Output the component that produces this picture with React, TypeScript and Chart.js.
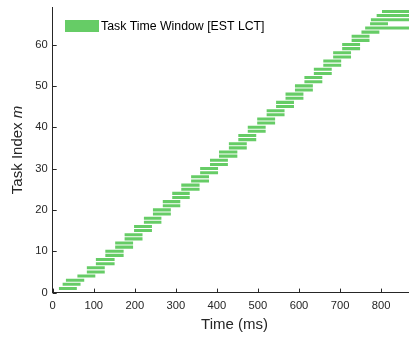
import React, { useEffect, useRef } from 'react';
import { Chart, registerables } from 'chart.js';

Chart.register(...registerables);

// ---------- data ----------
const taskIndex = [
  1, 2, 3, 4, 5, 6, 7, 8, 9, 10, 11, 12, 13, 14, 15, 16, 17, 18, 19, 20,
  21, 22, 23, 24, 25, 26, 27, 28, 29, 30, 31, 32, 33, 34, 35, 36, 37, 38, 39, 40,
  41, 42, 43, 44, 45, 46, 47, 48, 49, 50, 51, 52, 53, 54, 55, 56, 57, 58, 59, 60,
  61, 62, 63, 64, 65, 66, 67, 68,
];
const est = [
  16, 25, 33, 61, 84, 84, 106, 106, 129, 129, 153, 153, 176, 176, 199, 199, 223, 223, 245, 245,
  269, 269, 292, 292, 314, 314, 338, 338, 360, 360, 384, 384, 406, 406, 430, 430, 453, 453, 476, 476,
  499, 499, 522, 522, 545, 545, 568, 568, 591, 591, 614, 614, 637, 637, 660, 660, 684, 684, 706, 706,
  729, 729, 753, 762, 774, 776, 790, 803,
];
const lct = [
  58, 67, 76, 103, 126, 126, 150, 150, 172, 172, 195, 195, 218, 218, 241, 241, 264, 264, 287, 287,
  310, 310, 333, 333, 357, 357, 380, 380, 402, 402, 426, 426, 449, 449, 472, 472, 495, 495, 518, 518,
  541, 541, 564, 564, 587, 587, 610, 610, 633, 633, 656, 656, 679, 679, 702, 702, 726, 726, 748, 748,
  771, 771, 795, 890, 816, 890, 890, 890,
];
const xTicks = [0, 100, 200, 300, 400, 500, 600, 700, 800];
const yTicks = [0, 10, 20, 30, 40, 50, 60];
const seriesLabel = 'Task Time Window [EST LCT]';
const xTitle = 'Time (ms)';
const yTitleMain = 'Task Index ';
const yTitleVar = 'm';

// ---------- style ----------
const W = 409;
const H = 339;
const FONT = '"Liberation Sans", Arial, Helvetica, sans-serif';
const AXIS = '#262626';
const GREEN = '#66cc66';

const decorPlugin = {
  id: 'decor',
  afterDraw(chart: any) {
    const { ctx, chartArea, scales } = chart;
    const xs = scales.x;
    const ys = scales.y;
    ctx.save();
    // inward tick marks
    ctx.strokeStyle = AXIS;
    ctx.lineWidth = 1;
    ctx.beginPath();
    xTicks.forEach((v) => {
      const px = Math.round(xs.getPixelForValue(v)) + 0.5;
      ctx.moveTo(px, chartArea.bottom);
      ctx.lineTo(px, chartArea.bottom - 4);
    });
    yTicks.forEach((v) => {
      const py = Math.round(ys.getPixelForValue(v)) + 0.5;
      ctx.moveTo(chartArea.left, py);
      ctx.lineTo(chartArea.left + 4, py);
    });
    ctx.stroke();

    // x title
    ctx.fillStyle = AXIS;
    ctx.font = `15px ${FONT}`;
    ctx.textAlign = 'center';
    ctx.textBaseline = 'middle';
    ctx.fillText(xTitle, 234.5, 324.5);

    // y title with italic variable
    const cy = (chartArea.top + chartArea.bottom) / 2;
    ctx.translate(18, cy);
    ctx.rotate(-Math.PI / 2);
    ctx.font = `15px ${FONT}`;
    const w1 = ctx.measureText(yTitleMain).width;
    ctx.font = `italic 15px ${FONT}`;
    const w2 = ctx.measureText(yTitleVar).width;
    const start = -(w1 + w2) / 2;
    ctx.textAlign = 'left';
    ctx.font = `15px ${FONT}`;
    ctx.fillText(yTitleMain, start, 0);
    ctx.font = `italic 15px ${FONT}`;
    ctx.fillText(yTitleVar, start + w1, 0);
    ctx.setTransform(1, 0, 0, 1, 0, 0);

    // legend
    const ds = chart.data.datasets[0];
    ctx.fillStyle = ds.backgroundColor;
    ctx.fillRect(65, 20, 34, 12);
    ctx.fillStyle = '#000000';
    ctx.font = `12.3px ${FONT}`;
    ctx.textAlign = 'left';
    ctx.textBaseline = 'middle';
    ctx.fillText(ds.label, 101, 26.5);
    ctx.restore();
  },
};

export default function App() {
  const ref = useRef<HTMLCanvasElement | null>(null);

  useEffect(() => {
    if (!ref.current) return;
    const data = taskIndex.map((m, i) => ({ y: m, x: [est[i], lct[i]] }));
    const chart = new Chart(ref.current, {
      type: 'bar',
      data: {
        datasets: [
          {
            label: seriesLabel,
            data: data as any,
            backgroundColor: GREEN,
            borderWidth: 0,
            barThickness: 2.4,
          },
        ],
      },
      options: {
        indexAxis: 'y',
        animation: false,
        responsive: false,
        devicePixelRatio: 1,
        layout: { padding: { top: 7.3, right: 0, bottom: 0, left: 0 } },
        plugins: {
          legend: { display: false },
          tooltip: { enabled: false },
        },
        scales: {
          x: {
            type: 'linear',
            position: 'bottom',
            min: 0,
            max: 868,
            offset: false,
            afterBuildTicks: (s: any) => {
              s.ticks = xTicks.map((v) => ({ value: v }));
            },
            afterFit: (s: any) => {
              s.height = 46.4;
              s.paddingLeft = 0;
              s.paddingRight = 0;
            },
            grid: { display: false, drawTicks: false, offset: false },
            border: { display: true, color: AXIS, width: 1 },
            ticks: {
              color: AXIS,
              font: { family: FONT, size: 11.2 },
              padding: 7,
              maxRotation: 0,
              autoSkip: false,
            },
          },
          y: {
            type: 'linear',
            min: 0,
            max: 69,
            offset: false,
            afterBuildTicks: (s: any) => {
              s.ticks = yTicks.map((v) => ({ value: v }));
            },
            afterFit: (s: any) => {
              s.width = 52.7;
              s.paddingTop = 0;
              s.paddingBottom = 0;
            },
            grid: { display: false, drawTicks: false, offset: false },
            border: { display: true, color: AXIS, width: 1 },
            ticks: {
              color: AXIS,
              font: { family: FONT, size: 11.2 },
              padding: 5,
              autoSkip: false,
            },
          },
        },
      },
      plugins: [decorPlugin],
    });
    return () => chart.destroy();
  }, []);

  return (
    <div style={{ position: 'absolute', left: 0, top: 0, width: W, height: H, background: '#fff' }}>
      <canvas ref={ref} width={W} height={H} style={{ width: W, height: H, display: 'block' }} />
    </div>
  );
}
